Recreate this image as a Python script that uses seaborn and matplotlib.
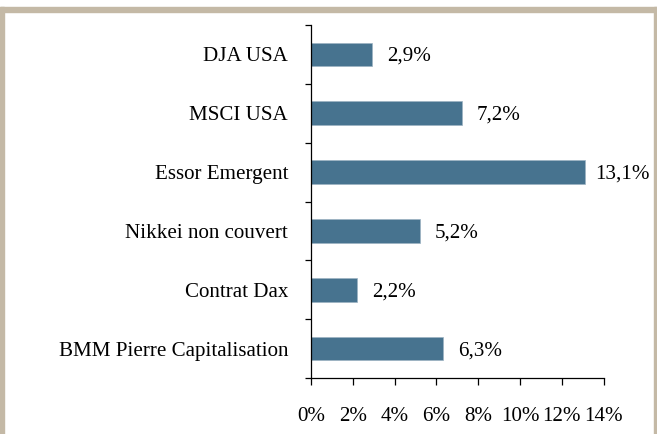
import matplotlib
matplotlib.use("Agg")
import matplotlib.pyplot as plt
import seaborn as sns
import pandas as pd
from matplotlib.patches import Rectangle
from matplotlib.ticker import FixedLocator, FuncFormatter

categories = ["DJA USA", "MSCI USA", "Essor Emergent", "Nikkei non couvert",
              "Contrat Dax", "BMM Pierre Capitalisation"]
values = [2.9, 7.2, 13.1, 5.2, 2.2, 6.3]
value_labels = ["2,9%", "7,2%", "13,1%", "5,2%", "2,2%", "6,3%"]
x_ticks = [0, 2, 4, 6, 8, 10, 12, 14]

sns.set_style("white")
plt.rcParams['font.family'] = ['Liberation Serif', 'DejaVu Serif']
plt.rcParams['font.size'] = 15
plt.rcParams['text.color'] = 'black'
plt.rcParams['xtick.color'] = 'black'
plt.rcParams['ytick.color'] = 'black'

FS = 15.1
W, H = 657, 434
fig = plt.figure(figsize=(W / 100, H / 100), dpi=100)
ax = fig.add_axes([311 / W, (H - 378) / H, (603.7 - 311) / W, (378 - 25) / H])

df = pd.DataFrame({"cat": categories, "val": values})
sns.barplot(data=df, x="val", y="cat", orient="h", color="#47738F",
            width=0.4, ax=ax, edgecolor="#9DB3C3", linewidth=0.5, saturation=1)

ax.set_xlim(0, 14)
ax.set_ylim(len(categories) - 0.5, -0.5)
ax.xaxis.set_major_locator(FixedLocator(x_ticks))
ax.xaxis.set_major_formatter(FuncFormatter(lambda v, p: f"{v:.0f}%"))
ax.set_xlabel("")
ax.set_ylabel("")

for s in ["top", "right"]:
    ax.spines[s].set_visible(False)
for s in ["left", "bottom"]:
    ax.spines[s].set_color("black")
    ax.spines[s].set_linewidth(0.9)

ax.tick_params(axis="x", which="major", direction="out", length=5, width=0.9,
               color="black", labelcolor="black", pad=16, labelsize=FS, bottom=True)
ax.tick_params(axis="y", which="major", length=0, pad=16.5, labelsize=FS,
               labelcolor="black", left=True)
ax.yaxis.set_minor_locator(FixedLocator([i - 0.5 for i in range(len(categories) + 1)]))
ax.tick_params(axis="y", which="minor", direction="out", length=4.5, width=0.9,
               color="black", left=True)

pads = [11, 11, 7.5, 11, 11, 11]
for patch, lab, pd_ in zip(ax.patches, value_labels, pads):
    ax.annotate(lab, (patch.get_width(), patch.get_y() + patch.get_height() / 2),
                xytext=(pd_, -1.5), textcoords="offset points", ha="left",
                va="center", fontsize=FS, color="black", annotation_clip=False)

# frame border
tan = "#C4B9A6"
fig.patches.append(Rectangle((0, H - 12), W, 5, transform=None, color=tan, zorder=0))
fig.patches.append(Rectangle((0, 0), 3.5, H - 7, transform=None, color=tan, zorder=0))
fig.patches.append(Rectangle((W - 3.5, 0), 3.5, H - 7, transform=None, color=tan, zorder=0))

fig.savefig("out.png", dpi=100)
